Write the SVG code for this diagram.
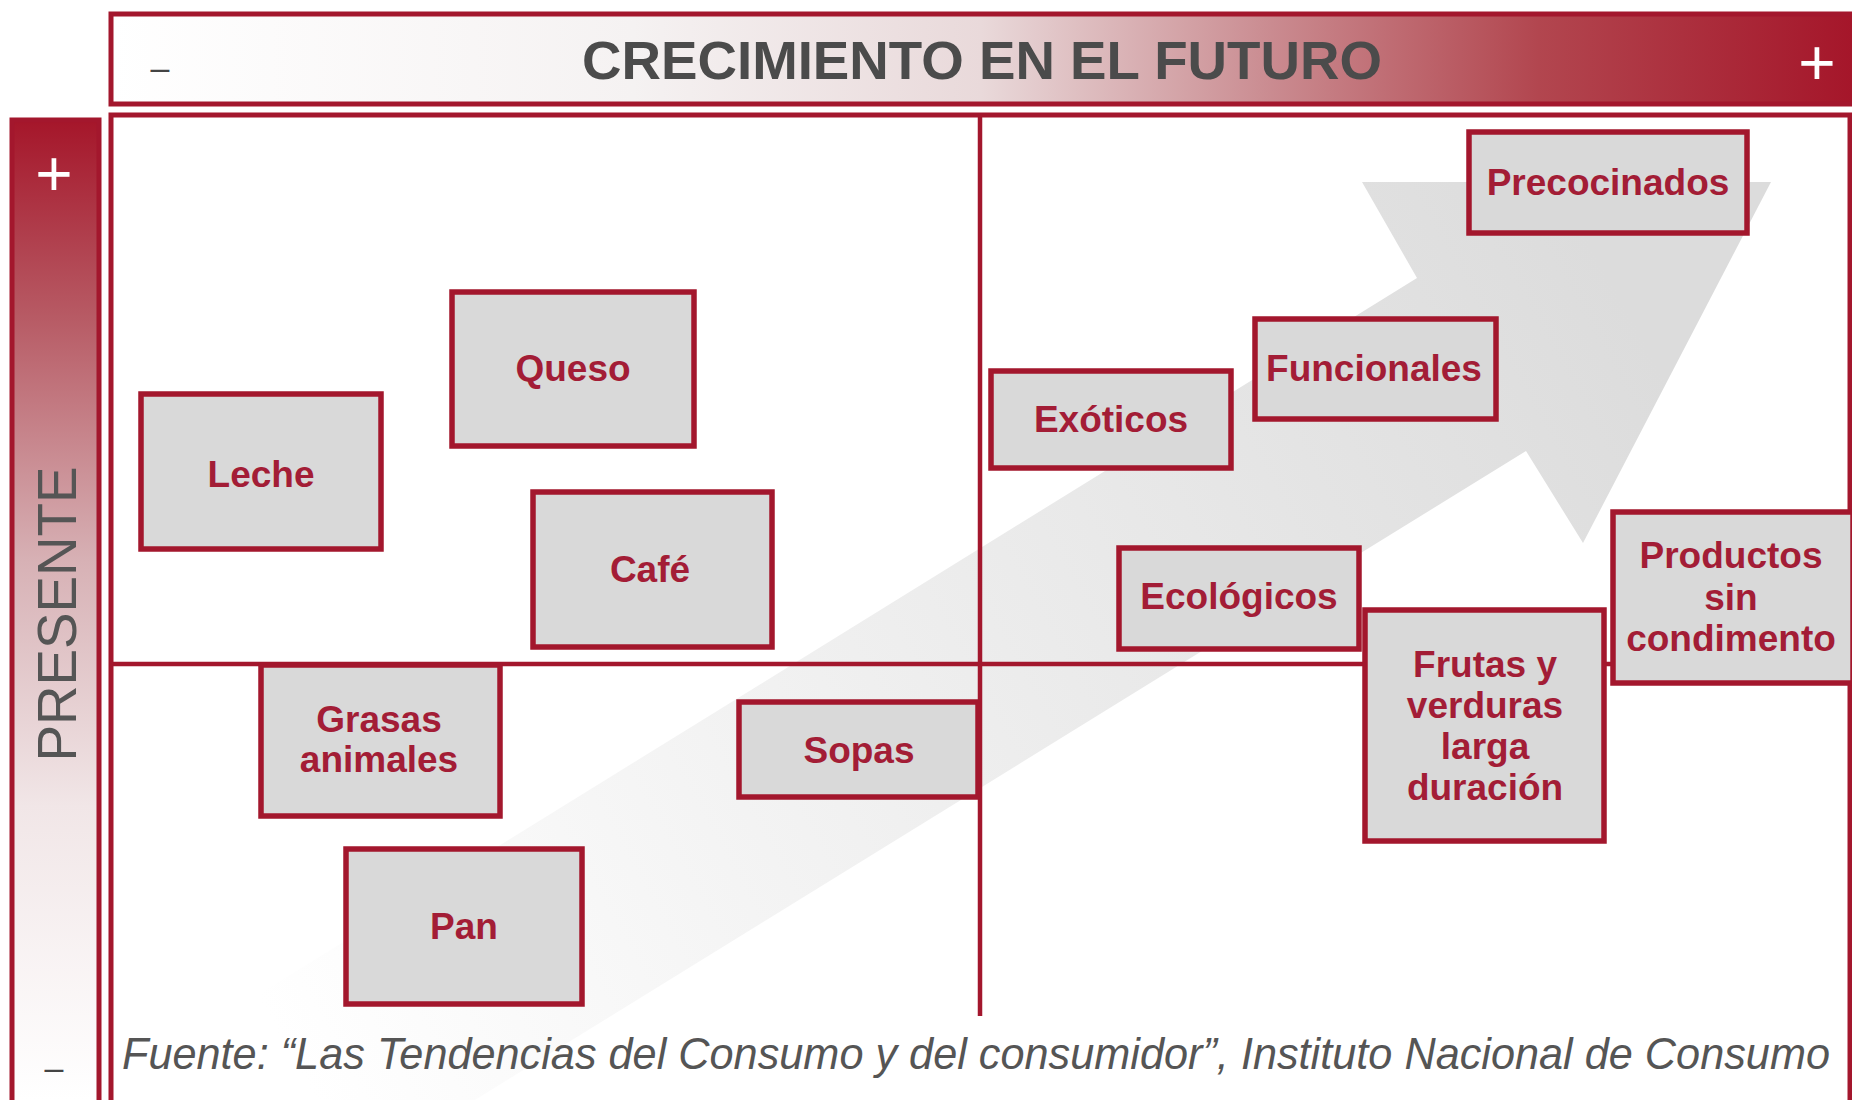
<svg xmlns="http://www.w3.org/2000/svg" width="1852" height="1100" viewBox="0 0 1852 1100">
  <defs>
    <linearGradient id="hdrGrad" x1="111" y1="0" x2="1852" y2="0" gradientUnits="userSpaceOnUse">
      <stop offset="0" stop-color="#ffffff"/>
      <stop offset="0.3" stop-color="#f5f2f2"/>
      <stop offset="0.5" stop-color="#e9d9da"/>
      <stop offset="0.66" stop-color="#cb8e93"/>
      <stop offset="0.82" stop-color="#b2464f"/>
      <stop offset="1" stop-color="#a5162a"/>
    </linearGradient>
    <linearGradient id="sideGrad" x1="0" y1="120" x2="0" y2="1100" gradientUnits="userSpaceOnUse">
      <stop offset="0" stop-color="#a5162a"/>
      <stop offset="0.2" stop-color="#b75a64"/>
      <stop offset="0.45" stop-color="#d7b1b5"/>
      <stop offset="0.7" stop-color="#f1e6e7"/>
      <stop offset="1" stop-color="#ffffff"/>
    </linearGradient>
    <linearGradient id="arrowGrad" x1="260" y1="1000" x2="1600" y2="260" gradientUnits="userSpaceOnUse">
      <stop offset="0" stop-color="#ffffff"/>
      <stop offset="0.45" stop-color="#efefef"/>
      <stop offset="1" stop-color="#dcdcdc"/>
    </linearGradient>
    <clipPath id="mainClip">
      <rect x="113" y="117" width="1735" height="983"/>
    </clipPath>
    <style>
      .frame { fill: none; stroke: #a3172d; stroke-width: 5; }
      .line { stroke: #a3172d; stroke-width: 4.5; }
      .node rect { fill: #d9d9d9; stroke: #a3172d; stroke-width: 5.5; }
      .node text { font-family: "Liberation Sans", Arial, sans-serif; font-weight: bold; font-size: 37px; fill: #a31d36; text-anchor: middle; }
      .sign { font-family: "Liberation Sans", Arial, sans-serif; text-anchor: middle; }
    </style>
  </defs>

  <rect x="0" y="0" width="1852" height="1100" fill="#ffffff"/>

  <!-- header bar -->
  <g id="header">
    <rect x="111" y="14" width="1745" height="90" fill="url(#hdrGrad)" stroke="#a3172d" stroke-width="5"/>
    <text x="982" y="79" font-family="'Liberation Sans', Arial, sans-serif" font-weight="bold" font-size="54" fill="#4b4b4b" text-anchor="middle" textLength="800" lengthAdjust="spacingAndGlyphs">CRECIMIENTO EN EL FUTURO</text>
    <text class="sign" x="160" y="79" font-size="34" fill="#444444">–</text>
    <text class="sign" x="1817" y="85" font-size="64" fill="#ffffff">+</text>
  </g>

  <!-- side bar -->
  <g id="sidebar">
    <rect x="12" y="120" width="87" height="990" fill="url(#sideGrad)" stroke="#a3172d" stroke-width="5"/>
    <text class="sign" x="54" y="196" font-size="64" fill="#ffffff">+</text>
    <text x="0" y="0" transform="translate(76 614) rotate(-90)" font-family="'Liberation Sans', Arial, sans-serif" font-size="56" fill="#555555" text-anchor="middle" textLength="295" lengthAdjust="spacingAndGlyphs">PRESENTE</text>
    <text class="sign" x="54" y="1079" font-size="34" fill="#444444">–</text>
  </g>

  <!-- main plot area -->
  <g id="plot">
    <rect x="111" y="115" width="1739" height="1000" fill="#ffffff"/>
    <g clip-path="url(#mainClip)">
      <polygon id="trend-arrow" points="240,1006 1417,278 1362,182 1771,182 1583,543 1526,451 347,1179" fill="url(#arrowGrad)"/>
    </g>
  </g>

  <!-- connectors / dividers -->
  <g id="connectors">
    <line class="line" x1="980" y1="115" x2="980" y2="1016"/>
    <line class="line" x1="111" y1="664" x2="1850" y2="664"/>
    <rect class="frame" x="111" y="115" width="1739" height="1000"/>
  </g>

  <!-- nodes -->
  <g id="node-precocinados" class="node">
    <rect x="1469" y="132" width="278" height="101"/>
    <text x="1608" y="195">Precocinados</text>
  </g>
  <g id="node-queso" class="node">
    <rect x="452" y="292" width="242" height="154"/>
    <text x="573" y="381">Queso</text>
  </g>
  <g id="node-leche" class="node">
    <rect x="141" y="394" width="240" height="155"/>
    <text x="261" y="487">Leche</text>
  </g>
  <g id="node-cafe" class="node">
    <rect x="533" y="492" width="239" height="155"/>
    <text x="650" y="582">Café</text>
  </g>
  <g id="node-exoticos" class="node">
    <rect x="991" y="371" width="240" height="97"/>
    <text x="1111" y="432">Exóticos</text>
  </g>
  <g id="node-funcionales" class="node">
    <rect x="1255" y="319" width="241" height="100"/>
    <text x="1374" y="381">Funcionales</text>
  </g>
  <g id="node-ecologicos" class="node">
    <rect x="1119" y="548" width="240" height="101"/>
    <text x="1239" y="609">Ecológicos</text>
  </g>
  <g id="node-productos" class="node">
    <rect x="1613" y="512" width="240" height="171"/>
    <text x="1731" y="568">Productos</text>
    <text x="1731" y="610">sin</text>
    <text x="1731" y="651">condimento</text>
  </g>
  <g id="node-frutas" class="node">
    <rect x="1365" y="610" width="239" height="231"/>
    <text x="1485" y="677">Frutas y</text>
    <text x="1485" y="718">verduras</text>
    <text x="1485" y="759">larga</text>
    <text x="1485" y="800">duración</text>
  </g>
  <g id="node-grasas" class="node">
    <rect x="261" y="665" width="239" height="151"/>
    <text x="379" y="732">Grasas</text>
    <text x="379" y="772">animales</text>
  </g>
  <g id="node-sopas" class="node">
    <rect x="739" y="702" width="239" height="95"/>
    <text x="859" y="763">Sopas</text>
  </g>
  <g id="node-pan" class="node">
    <rect x="346" y="849" width="236" height="155"/>
    <text x="464" y="939">Pan</text>
  </g>

  <!-- source -->
  <text id="source" x="122" y="1069" font-family="'Liberation Sans', Arial, sans-serif" font-style="italic" font-size="45" fill="#555555" textLength="1708" lengthAdjust="spacingAndGlyphs">Fuente: “Las Tendencias del Consumo y del consumidor”, Instituto Nacional de Consumo</text>
</svg>
